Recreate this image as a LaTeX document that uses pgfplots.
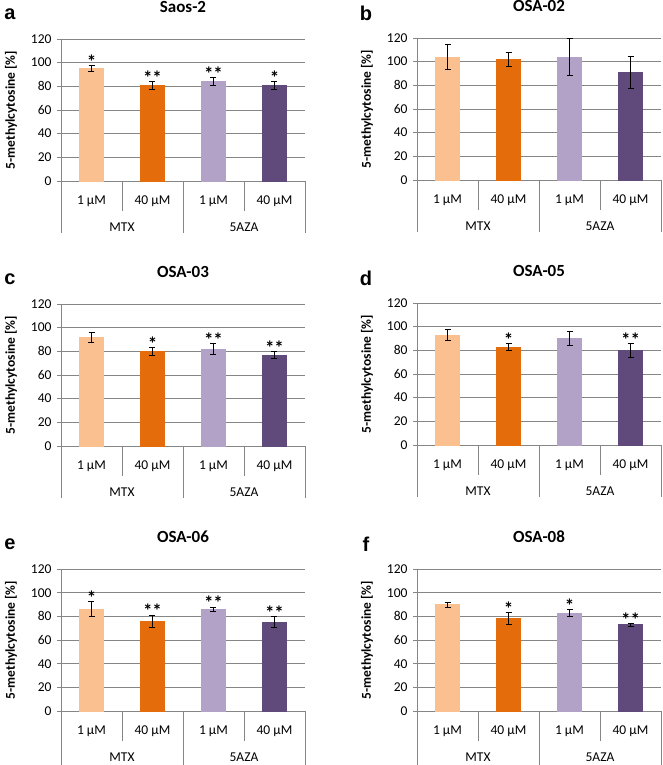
\documentclass[border=0pt]{standalone}
\usepackage{pgfplots}
\pgfplotsset{compat=1.18}
\usepackage{fontspec}
\setmainfont{Carlito}
\newfontfamily\letterfont{Liberation Sans}
\definecolor{c1}{HTML}{FAC090}
\definecolor{c2}{HTML}{E46C0A}
\definecolor{c3}{HTML}{B3A2C7}
\definecolor{c4}{HTML}{604A7B}
\definecolor{gridc}{HTML}{868686}
\pgfplotsset{
 panel/.style={
  scale only axis, width=244pt, height=142pt,
  xmin=0, xmax=4, ymin=0, ymax=120, ytick={0,20,...,120},
  xtick={0.5,1.5,2.5,3.5}, xticklabels={1 µM,40 µM,1 µM,40 µM},
  axis x line*=bottom, axis y line*=left,
  axis line style={gridc, line width=0.8pt, -},
  ymajorgrids, grid style={gridc, line width=0.8pt},
  major x tick style={draw=none}, ytick align=outside, major tick length=4pt,
  y tick style={gridc, line width=0.8pt},
  ybar, bar width=24pt, bar shift=0pt,
  tick label style={font=\fontsize{13.5}{15}\selectfont},
  xticklabel style={yshift=-7pt},
  yticklabel style={xshift=-2pt},
  /pgf/number format/assume math mode=true,
  ylabel={5-methylcytosine [\%]},
  every axis y label/.style={at={(rel axis cs:0,0.5)}, xshift=-50pt, rotate=90, anchor=center, font=\fontsize{13.5}{15}\selectfont\bfseries},
  title style={at={(rel axis cs:0.5,1)}, yshift=26pt, anchor=center, font=\fontsize{17}{19}\selectfont\bfseries},
  clip=false,
  error bars/y dir=both, error bars/y explicit,
  error bars/error bar style={black, line width=0.8pt},
  error bars/error mark options={rotate=90, mark size=3pt, black, line width=0.8pt},
 },
 b1/.style={fill=c1, draw=c1},
 b2/.style={fill=c2, draw=c2},
 b3/.style={fill=c3, draw=c3},
 b4/.style={fill=c4, draw=c4},
}
\newcommand\decor[2]{%
  \draw[gridc, line width=0.8pt] (axis cs:0,0) -- ++(0,-#1);
  \draw[gridc, line width=0.8pt] (axis cs:2,0) -- ++(0,-#1);
  \draw[gridc, line width=0.8pt] (axis cs:4,0) -- ++(0,-#1);
  \draw[gridc, line width=0.8pt] (axis cs:1,0) -- ++(0,-30pt);
  \draw[gridc, line width=0.8pt] (axis cs:3,0) -- ++(0,-30pt);
  \node[font=\fontsize{13.5}{15}\selectfont] at (axis cs:1,0) [yshift=-46pt] {MTX};
  \node[font=\fontsize{13.5}{15}\selectfont] at (axis cs:3,0) [yshift=-46pt] {5AZA};
  \node[font=\fontsize{20}{22}\selectfont\letterfont\bfseries] at (rel axis cs:0,1) [xshift=-51pt, yshift=25pt] {#2};
}
\newcommand\sig[2]{\node[anchor=south, inner sep=0pt, yshift=-3pt, font=\fontsize{19}{21}\selectfont\bfseries] at (axis cs:#1) {#2};}
\begin{document}
\begin{tikzpicture}
% a
\begin{axis}[panel, at={(61pt,584pt)}, anchor=south west, title={Saos-2}]
\addplot[b1] coordinates {(0.5,95) +- (0,2.5)};
\addplot[b2] coordinates {(1.5,81) +- (0,3.3)};
\addplot[b3] coordinates {(2.5,84) +- (0,3.2)};
\addplot[b4] coordinates {(3.5,81) +- (0,3.2)};
\decor{52pt}{a}
\sig{0.5,97.5}{*}\sig{1.5,84.3}{**}\sig{2.5,87.2}{**}\sig{3.5,84.2}{*}
\end{axis}
% b
\begin{axis}[panel, at={(417pt,585pt)}, anchor=south west, title={OSA-02}]
\addplot[b1] coordinates {(0.5,104) +- (0,10.3)};
\addplot[b2] coordinates {(1.5,102) +- (0,6)};
\addplot[b3] coordinates {(2.5,104) +- (0,16)};
\addplot[b4] coordinates {(3.5,91) +- (0,13.2)};
\decor{52pt}{b}
\end{axis}
% c
\begin{axis}[panel, at={(61pt,319pt)}, anchor=south west, title={OSA-03}]
\addplot[b1] coordinates {(0.5,92) +- (0,4.3)};
\addplot[b2] coordinates {(1.5,80) +- (0,3.1)};
\addplot[b3] coordinates {(2.5,82) +- (0,4.3)};
\addplot[b4] coordinates {(3.5,77) +- (0,3)};
\decor{52pt}{c}
\sig{1.5,83.1}{*}\sig{2.5,86.3}{**}\sig{3.5,80}{**}
\end{axis}
% d
\begin{axis}[panel, at={(417pt,320pt)}, anchor=south west, title={OSA-05}]
\addplot[b1] coordinates {(0.5,93) +- (0,4.8)};
\addplot[b2] coordinates {(1.5,83) +- (0,3)};
\addplot[b3] coordinates {(2.5,90) +- (0,6)};
\addplot[b4] coordinates {(3.5,80) +- (0,6)};
\decor{52pt}{d}
\sig{1.5,86}{*}\sig{3.5,86}{**}
\end{axis}
% e
\begin{axis}[panel, at={(61pt,54pt)}, anchor=south west, title={OSA-06}]
\addplot[b1] coordinates {(0.5,86) +- (0,6.3)};
\addplot[b2] coordinates {(1.5,76) +- (0,5)};
\addplot[b3] coordinates {(2.5,86) +- (0,1.8)};
\addplot[b4] coordinates {(3.5,75.3) +- (0,4.3)};
\decor{54pt}{e}
\sig{0.5,92.3}{*}\sig{1.5,81}{**}\sig{2.5,87.8}{**}\sig{3.5,79.6}{**}
\end{axis}
% f
\begin{axis}[panel, at={(417pt,54pt)}, anchor=south west, title={OSA-08}]
\addplot[b1] coordinates {(0.5,90) +- (0,2.1)};
\addplot[b2] coordinates {(1.5,78) +- (0,5)};
\addplot[b3] coordinates {(2.5,83) +- (0,2.8)};
\addplot[b4] coordinates {(3.5,73) +- (0,1.1)};
\decor{54pt}{f}
\sig{1.5,83}{*}\sig{2.5,85.8}{*}\sig{3.5,74.1}{**}
\end{axis}
\pgfresetboundingbox
\path[use as bounding box] (0,0) rectangle (662pt,765pt);
\end{tikzpicture}
\end{document}
